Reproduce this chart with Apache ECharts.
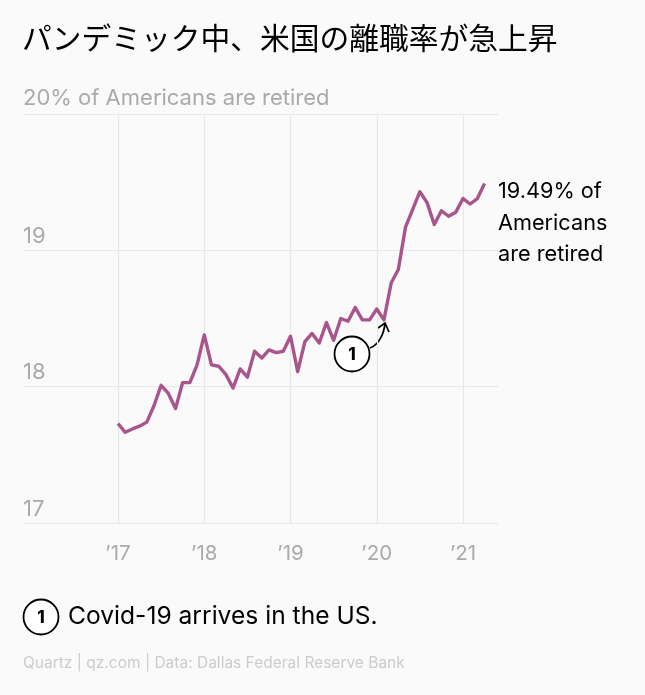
<!DOCTYPE html>
<html lang="ja">
<head>
    <meta charset="UTF-8">
    <title>パンデミック中、米国の離職率が急上昇</title>
    <script src="https://cdn.jsdelivr.net/npm/echarts@6/dist/echarts.min.js"></script>
    <style>
        html, body { margin: 0; padding: 0; background: #fafafa; }
        #fig1 { width: 645px; height: 695px; }
    </style>
</head>
<body>
    <div id="fig1"></div>
    <script>
        // months since Jan 2017 -> retired share
        let months = ['2017-01','2017-02','2017-03','2017-04','2017-05','2017-06','2017-07','2017-08','2017-09','2017-10','2017-11','2017-12',
            '2018-01','2018-02','2018-03','2018-04','2018-05','2018-06','2018-07','2018-08','2018-09','2018-10','2018-11','2018-12',
            '2019-01','2019-02','2019-03','2019-04','2019-05','2019-06','2019-07','2019-08','2019-09','2019-10','2019-11','2019-12',
            '2020-01','2020-02','2020-03','2020-04','2020-05','2020-06','2020-07','2020-08','2020-09','2020-10','2020-11','2020-12',
            '2021-01','2021-02','2021-03','2021-04'];
        let retired = [17.73,17.665,17.69,17.71,17.74,17.86,18.01,17.95,17.84,18.03,18.03,18.16,
            18.38,18.16,18.15,18.09,17.99,18.13,18.07,18.26,18.21,18.27,18.25,18.26,
            18.37,18.11,18.33,18.39,18.32,18.47,18.34,18.50,18.48,18.58,18.49,18.49,
            18.57,18.49,18.76,18.86,19.17,19.30,19.43,19.35,19.19,19.29,19.25,19.28,
            19.38,19.34,19.38,19.49];
        let yearTicks = [0, 12, 24, 36, 48];
        let yearLabels = ['’17', '’18', '’19', '’20', '’21'];
        let yLabels = [17, 18, 19];
        let endNote = '19.49% of\nAmericans\nare retired';

        const FONT = 'Inter, "Noto Sans", sans-serif';
        const GREY = '#aaaaaa';
        const GRID = '#e8e8e8';

        let fig1 = echarts.init(document.getElementById('fig1'), null, {renderer: 'canvas'});

        // numbered circle used both on the chart and in the footnote
        function badge (x, y, r) {
            return [
                {type: 'circle', shape: {cx: x, cy: y, r: r}, style: {fill: '#fff', stroke: '#000', lineWidth: 1.8}},
                {type: 'text', x: x, y: y + 1, style: {text: '1', font: '800 17px ' + FONT, fill: '#000', align: 'center', verticalAlign: 'middle'}}
            ];
        }

        fig1.setOption({
            animation: false,
            backgroundColor: '#fafafa',
            grid: {left: 23, right: 147, top: 114, bottom: 172},
            xAxis: {
                type: 'value',
                min: -13.22,
                max: 52.87,
                axisLine: {show: false},
                axisTick: {show: false, customValues: yearTicks},
                axisLabel: {
                    customValues: yearTicks,
                    margin: 20,
                    fontFamily: FONT,
                    fontSize: 20.5,
                    color: GREY,
                    formatter: (v) => yearLabels[yearTicks.indexOf(v)]
                },
                splitLine: {show: true, lineStyle: {color: GRID, width: 1.2}}
            },
            yAxis: {
                type: 'value',
                min: 17,
                max: 20,
                interval: 1,
                axisLine: {show: false},
                axisTick: {show: false},
                axisLabel: {
                    inside: true,
                    margin: 0,
                    customValues: yLabels,
                    verticalAlign: 'bottom',
                    fontFamily: FONT,
                    fontSize: 22,
                    color: GREY,
                    padding: [0, 0, 3, 0]
                },
                splitLine: {show: true, lineStyle: {color: GRID, width: 1.2}}
            },
            series: [{
                type: 'line',
                data: retired.map((v, i) => [i, v]),
                name: 'retired',
                symbol: 'none',
                silent: true,
                lineStyle: {color: '#a8558c', width: 3.4, join: 'round'}
            }],
            graphic: [
                {type: 'text', x: 22, y: 38, style: {text: 'パンデミック中、米国の離職率が急上昇', font: '400 29.75px "Noto Sans CJK JP"', fill: '#000', verticalAlign: 'middle'}},
                {type: 'text', x: 23, y: 98, style: {text: '20% of Americans are retired', font: '400 22px ' + FONT, fill: GREY, verticalAlign: 'middle'}},
                {type: 'text', x: 498, y: 176, style: {text: endNote, font: '400 21.7px ' + FONT, lineHeight: 31.5, fill: '#000', verticalAlign: 'top'}},
                {type: 'bezierCurve', shape: {x1: 370, y1: 348, cpx1: 378, cpy1: 345, cpx2: 384, cpy2: 335, x2: 385, y2: 323}, style: {fill: 'none', stroke: '#000', lineWidth: 1.8}},
                {type: 'polyline', shape: {points: [[378, 328], [385, 323], [389, 332]]}, style: {fill: 'none', stroke: '#000', lineWidth: 1.8}},
                ...badge(352, 354, 17.5),
                ...badge(41, 617, 17.5),
                {type: 'text', x: 68, y: 617, style: {text: 'Covid-19 arrives in the US.', font: '400 24.6px ' + FONT, fill: '#000', verticalAlign: 'middle'}},
                {type: 'text', x: 23, y: 663, style: {text: 'Quartz | qz.com | Data: Dallas Federal Reserve Bank', font: '400 15.5px ' + FONT, fill: '#cccccc', verticalAlign: 'middle'}}
            ]
        });
    </script>
</body>
</html>
